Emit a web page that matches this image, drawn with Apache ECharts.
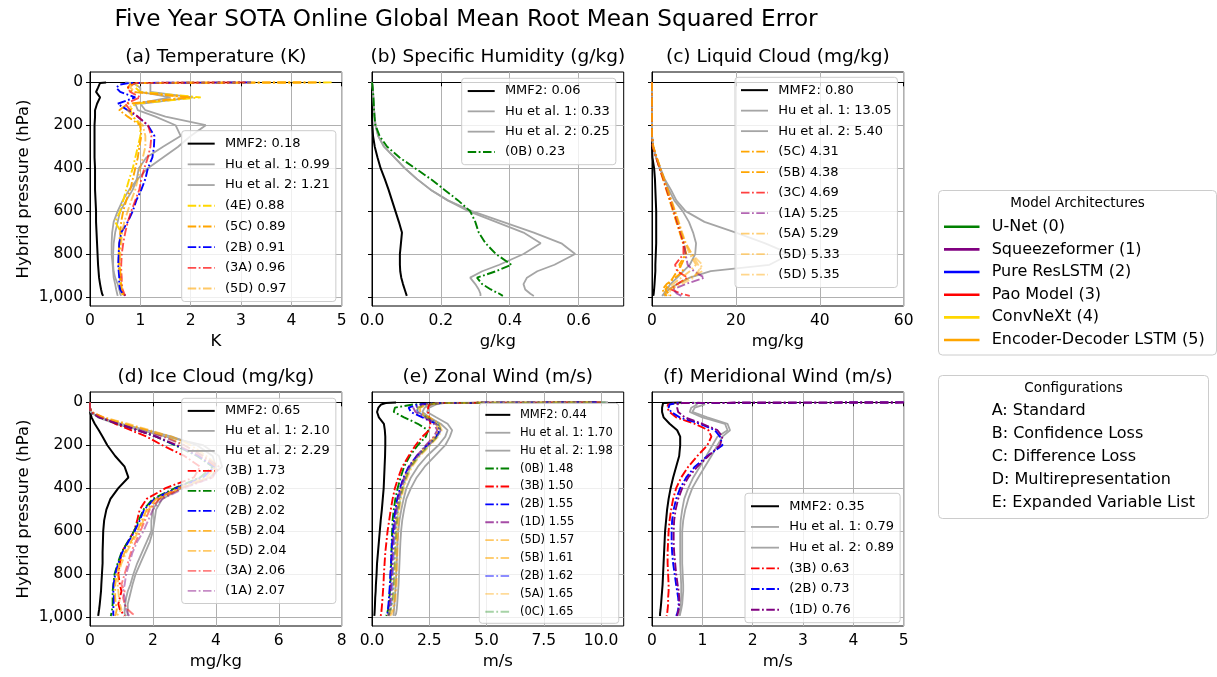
<!DOCTYPE html>
<html>
<head>
<meta charset="utf-8">
<script src="https://cdn.jsdelivr.net/npm/echarts@6/dist/echarts.min.js"></script>
<style>
html, body { margin: 0; padding: 0; background: #fff; }
#chart { width: 1217px; height: 677px; }
</style>
</head>
<body>
<div id="chart"></div>
<script>
// Hybrid pressure levels (hPa) shared by every RMSE profile
const LEVELS = [0.5, 3, 10, 25, 45, 70, 100, 130, 160, 200, 250, 300, 350, 400, 450, 500, 550, 600, 650, 700, 750, 800, 850, 880, 910, 940, 965, 985, 995];

// (a) Temperature RMSE (K)
const T_MMF2 = [0.32, 0.2, 0.17, 0.16, 0.12, 0.2, 0.14, 0.1, 0.1, 0.09, 0.09, 0.09, 0.09, 0.1, 0.1, 0.1, 0.11, 0.12, 0.12, 0.13, 0.14, 0.15, 0.16, 0.17, 0.18, 0.2, 0.22, 0.24, 0.26];
const T_HU1 = [1.2, 1.2, 1.2, 1.2, 1.2, 2.05, 1.0, 1.1, 1.5, 2.3, 2.0, 1.75, 1.45, 1.15, 0.95, 0.78, 0.65, 0.55, 0.47, 0.44, 0.43, 0.43, 0.45, 0.46, 0.47, 0.5, 0.52, 0.54, 0.55];
const T_HU2 = [0.7, 0.8, 0.9, 1.0, 1.0, 1.6, 0.9, 0.95, 1.3, 1.7, 1.8, 1.45, 1.12, 0.97, 0.93, 0.85, 0.72, 0.6, 0.55, 0.5, 0.47, 0.46, 0.46, 0.47, 0.5, 0.55, 0.58, 0.6, 0.62];
const T_4E = [4.8, 1.0, 0.95, 0.9, 1.0, 2.2, 0.9, 0.8, 0.85, 1.0, 1.0, 0.95, 0.9, 0.85, 0.78, 0.72, 0.66, 0.6, 0.5, 0.62, 0.6, 0.58, 0.58, 0.6, 0.6, 0.62, 0.62, 0.64, 0.66];
const T_5C = [4.5, 0.9, 0.8, 0.75, 0.85, 2.0, 0.75, 0.58, 0.75, 1.0, 1.02, 0.98, 0.95, 0.9, 0.85, 0.8, 0.72, 0.66, 0.62, 0.6, 0.58, 0.57, 0.57, 0.58, 0.6, 0.6, 0.62, 0.65, 0.68];
const T_2B = [3.2, 0.8, 0.6, 0.52, 0.6, 0.9, 0.55, 0.75, 0.95, 1.15, 1.28, 1.27, 1.24, 1.15, 1.1, 1.02, 0.92, 0.85, 0.75, 0.62, 0.58, 0.57, 0.56, 0.57, 0.58, 0.58, 0.6, 0.65, 0.72];
const T_3A = [3.1, 0.9, 0.85, 0.75, 0.8, 1.0, 0.7, 0.8, 0.95, 1.15, 1.22, 1.2, 1.15, 1.08, 1.02, 0.98, 0.9, 0.82, 0.75, 0.7, 0.66, 0.63, 0.62, 0.62, 0.63, 0.63, 0.65, 0.68, 0.7];
const T_5D = [4.2, 0.9, 0.85, 0.8, 0.9, 1.9, 0.85, 0.75, 0.85, 1.05, 1.1, 1.1, 1.05, 1.0, 0.95, 0.9, 0.82, 0.75, 0.68, 0.64, 0.62, 0.6, 0.6, 0.6, 0.62, 0.62, 0.64, 0.66, 0.68];

// (b) Specific humidity RMSE (g/kg)
const Q_MMF2 = [0, 0, 0, 0, 0, 0, 0, 0, 0, 0.001, 0.003, 0.008, 0.016, 0.025, 0.037, 0.048, 0.058, 0.068, 0.078, 0.087, 0.084, 0.081, 0.081, 0.082, 0.085, 0.09, 0.095, 0.099, 0.101];
const Q_HU1 = [0, 0, 0.001, 0.002, 0.003, 0.004, 0.005, 0.006, 0.008, 0.01, 0.018, 0.035, 0.065, 0.095, 0.13, 0.17, 0.22, 0.29, 0.38, 0.47, 0.55, 0.59, 0.53, 0.48, 0.45, 0.44, 0.445, 0.46, 0.47];
const Q_HU2 = [0, 0, 0.001, 0.002, 0.003, 0.004, 0.005, 0.006, 0.008, 0.01, 0.018, 0.035, 0.065, 0.095, 0.13, 0.17, 0.22, 0.28, 0.36, 0.44, 0.49, 0.44, 0.37, 0.32, 0.285, 0.3, 0.31, 0.315, 0.315];
const Q_0B = [0, 0, 0.001, 0.002, 0.003, 0.004, 0.005, 0.006, 0.007, 0.01, 0.022, 0.044, 0.08, 0.125, 0.17, 0.21, 0.25, 0.285, 0.3, 0.31, 0.33, 0.36, 0.405, 0.36, 0.305, 0.32, 0.345, 0.37, 0.38];

// (c) Liquid cloud RMSE (mg/kg)
const L_MMF2 = [0, 0, 0, 0, 0, 0, 0, 0, 0, 0, 0, 0, 0.1, 0.5, 0.7, 0.8, 0.9, 1.0, 1.0, 1.0, 1.0, 0.9, 0.8, 0.8, 0.7, 0.6, 0.5, 0.4, 0.3];
const L_HU1 = [0, 0, 0, 0, 0, 0, 0, 0, 0, 0, 0, 0.3, 1.0, 2.0, 3.0, 4.5, 5.8, 8.0, 12.5, 20, 27, 33, 28, 14, 9, 6, 4, 3.2, 2.8];
const L_HU2 = [0, 0, 0, 0, 0, 0, 0, 0, 0, 0, 0, 0.3, 1.0, 1.8, 2.9, 4.0, 5.3, 7.3, 8.8, 9.8, 10.5, 10.3, 9.0, 7.5, 6.0, 4.4, 3.5, 2.8, 2.4];
const L_5C = [0, 0, 0, 0, 0, 0, 0, 0, 0, 0, 0, 0.2, 1.0, 1.8, 2.6, 3.4, 4.2, 5.0, 5.8, 6.6, 7.4, 8.2, 7.0, 6.0, 5.0, 4.0, 3.2, 4.0, 4.5];
const L_5B = [0, 0, 0, 0, 0, 0, 0, 0, 0, 0, 0, 0.3, 1.1, 1.9, 2.7, 3.5, 4.3, 5.1, 5.9, 6.7, 7.5, 8.0, 6.5, 7.5, 5.5, 3.5, 2.5, 3.0, 3.5];
const L_3C = [0, 0, 0, 0, 0, 0, 0, 0, 0, 0, 0, 0.2, 1.0, 1.8, 2.7, 3.5, 4.4, 5.2, 6.0, 6.8, 7.5, 7.5, 5.5, 6.0, 8.5, 6.0, 4.5, 7.0, 9.0];
const L_1A = [0, 0, 0, 0, 0, 0, 0, 0, 0, 0, 0, 0.2, 1.0, 1.9, 2.8, 3.6, 4.5, 5.3, 6.1, 6.9, 7.7, 8.0, 8.5, 10.0, 12.5, 8.0, 5.0, 6.0, 7.0];
const L_5A = [0, 0, 0, 0, 0, 0, 0, 0, 0, 0, 0, 0.3, 1.1, 2.0, 2.8, 3.7, 4.5, 5.4, 6.2, 7.0, 7.9, 9.0, 10.5, 9.0, 7.0, 5.0, 3.5, 3.0, 3.5];
const L_5D1 = [0, 0, 0, 0, 0, 0, 0, 0, 0, 0, 0, 0.3, 1.1, 2.0, 2.9, 3.7, 4.6, 5.5, 6.3, 7.1, 8.0, 9.5, 11.0, 12.0, 9.0, 6.0, 4.0, 3.5, 3.8];
const L_5D2 = [0, 0, 0, 0, 0, 0, 0, 0, 0, 0, 0, 0.3, 1.2, 2.0, 2.9, 3.8, 4.7, 5.5, 6.4, 7.2, 8.1, 9.5, 12.0, 11.0, 10.0, 7.0, 4.5, 4.0, 4.0];

// (d) Ice cloud RMSE (mg/kg)
const I_MMF2 = [0, 0, 0, 0, 0, 0.05, 0.15, 0.28, 0.4, 0.55, 0.8, 1.1, 1.22, 0.9, 0.65, 0.52, 0.45, 0.42, 0.41, 0.4, 0.4, 0.38, 0.36, 0.35, 0.33, 0.31, 0.29, 0.27, 0.26];
const I_HU1 = [0, 0, 0, 0, 0.02, 0.3, 1.0, 1.8, 2.6, 3.4, 3.9, 4.0, 3.5, 2.7, 2.2, 2.0, 1.95, 1.95, 1.8, 1.65, 1.5, 1.38, 1.28, 1.2, 1.15, 1.12, 1.1, 1.1, 1.15];
const I_HU2 = [0, 0, 0, 0, 0.02, 0.25, 0.8, 1.6, 2.4, 3.6, 4.1, 4.2, 3.8, 2.9, 2.3, 2.1, 2.05, 2.0, 1.9, 1.75, 1.6, 1.45, 1.35, 1.3, 1.25, 1.2, 1.2, 1.2, 1.2];
const I_3B = [0, 0, 0, 0, 0.05, 0.4, 0.8, 1.3, 1.8, 2.3, 3.0, 3.5, 3.3, 2.4, 1.8, 1.58, 1.5, 1.4, 1.2, 1.0, 0.95, 0.9, 0.95, 1.0, 0.95, 0.9, 0.95, 1.05, 1.1];
const I_0B = [0, 0, 0, 0, 0.02, 0.3, 0.9, 1.5, 2.1, 2.7, 3.4, 3.9, 3.5, 2.7, 2.0, 1.7, 1.55, 1.4, 1.2, 1.0, 0.88, 0.78, 0.74, 0.72, 0.72, 0.72, 0.7, 0.68, 0.66];
const I_2B = [0, 0, 0, 0, 0.02, 0.3, 0.9, 1.5, 2.1, 2.75, 3.45, 3.95, 3.6, 2.75, 2.05, 1.72, 1.58, 1.42, 1.22, 1.02, 0.9, 0.8, 0.75, 0.74, 0.76, 0.75, 0.74, 0.74, 0.75];
const I_5B = [0, 0, 0, 0, 0.03, 0.4, 1.1, 1.8, 2.4, 3.0, 3.6, 4.0, 3.7, 2.8, 2.1, 1.8, 1.65, 1.5, 1.3, 1.1, 0.95, 0.85, 0.8, 0.8, 0.8, 0.82, 0.85, 0.82, 0.8];
const I_5D = [0, 0, 0, 0, 0.03, 0.45, 1.2, 1.9, 2.6, 3.2, 3.7, 4.1, 3.8, 2.9, 2.2, 1.85, 1.7, 1.55, 1.35, 1.15, 1.0, 0.9, 0.88, 0.9, 0.92, 0.95, 1.0, 0.9, 0.85];
const I_3A = [0, 0, 0, 0, 0.02, 0.3, 0.9, 1.5, 2.1, 2.8, 3.5, 4.0, 3.9, 2.9, 2.2, 1.9, 1.75, 1.6, 1.45, 1.3, 1.2, 1.1, 1.0, 1.1, 1.05, 1.1, 1.2, 1.35, 1.45];
const I_1A = [0, 0, 0, 0, 0.02, 0.3, 0.9, 1.6, 2.3, 3.0, 3.6, 4.1, 3.9, 3.0, 2.3, 2.0, 1.85, 1.7, 1.5, 1.35, 1.25, 1.15, 1.1, 1.05, 1.1, 1.1, 1.15, 1.2, 1.25];

// (e) Zonal wind RMSE (m/s)
const U_MMF2 = [1.05, 0.6, 0.4, 0.28, 0.22, 0.3, 0.52, 0.56, 0.58, 0.58, 0.57, 0.55, 0.53, 0.51, 0.47, 0.43, 0.38, 0.34, 0.3, 0.26, 0.22, 0.2, 0.17, 0.16, 0.14, 0.13, 0.12, 0.11, 0.1];
const U_HU1 = [10.3, 3.0, 2.6, 2.3, 2.2, 2.5, 3.0, 3.3, 3.2, 2.9, 2.4, 2.0, 1.7, 1.5, 1.38, 1.28, 1.2, 1.15, 1.12, 1.1, 1.08, 1.06, 1.04, 1.02, 1.0, 0.98, 0.96, 0.95, 0.94];
const U_HU2 = [10.3, 3.2, 2.8, 2.5, 2.4, 2.8, 3.3, 3.5, 3.4, 3.2, 2.75, 2.3, 1.95, 1.7, 1.5, 1.4, 1.32, 1.27, 1.24, 1.22, 1.2, 1.18, 1.16, 1.14, 1.12, 1.1, 1.08, 1.05, 1.0];
const U_0B = [9.8, 3.0, 1.8, 1.0, 0.95, 1.4, 2.0, 2.45, 2.35, 2.0, 1.65, 1.4, 1.25, 1.12, 1.02, 0.95, 0.9, 0.88, 0.86, 0.85, 0.84, 0.82, 0.8, 0.78, 0.76, 0.74, 0.7, 0.66, 0.62];
const U_3B = [10.0, 3.0, 2.5, 2.45, 2.45, 2.5, 2.55, 2.5, 2.2, 1.9, 1.6, 1.32, 1.15, 1.0, 0.9, 0.82, 0.75, 0.68, 0.63, 0.58, 0.55, 0.52, 0.5, 0.48, 0.46, 0.44, 0.42, 0.4, 0.38];
const U_2B = [9.8, 3.0, 2.0, 1.6, 1.7, 2.2, 2.8, 2.95, 2.8, 2.4, 1.95, 1.6, 1.38, 1.22, 1.1, 1.02, 0.96, 0.92, 0.88, 0.85, 0.83, 0.8, 0.78, 0.76, 0.74, 0.72, 0.7, 0.68, 0.66];
const U_1D = [9.8, 3.0, 2.2, 1.8, 1.9, 2.3, 2.7, 2.85, 2.7, 2.35, 1.95, 1.62, 1.4, 1.25, 1.13, 1.05, 1.0, 0.96, 0.92, 0.9, 0.88, 0.86, 0.84, 0.82, 0.8, 0.78, 0.75, 0.72, 0.7];
const U_5D = [9.6, 3.0, 2.3, 2.0, 2.0, 2.4, 2.8, 2.9, 2.75, 2.4, 2.0, 1.65, 1.45, 1.3, 1.18, 1.1, 1.06, 1.04, 1.02, 1.0, 0.98, 0.96, 0.94, 0.92, 0.9, 0.85, 0.8, 0.75, 0.7];
const U_5B = [9.6, 3.0, 2.4, 2.1, 2.1, 2.5, 2.9, 3.0, 2.85, 2.5, 2.05, 1.7, 1.5, 1.35, 1.22, 1.15, 1.12, 1.1, 1.08, 1.08, 1.06, 1.05, 1.03, 1.02, 1.0, 0.95, 0.9, 0.82, 0.75];
const U_2B2 = [9.8, 3.0, 2.2, 1.9, 2.0, 2.4, 2.85, 3.0, 2.85, 2.45, 2.0, 1.65, 1.45, 1.3, 1.18, 1.1, 1.04, 1.0, 0.97, 0.95, 0.93, 0.91, 0.9, 0.88, 0.86, 0.84, 0.8, 0.76, 0.72];
const U_5A = [9.6, 3.0, 2.4, 2.1, 2.1, 2.5, 2.95, 3.05, 2.9, 2.55, 2.1, 1.75, 1.55, 1.4, 1.28, 1.2, 1.16, 1.14, 1.12, 1.12, 1.1, 1.1, 1.08, 1.06, 1.04, 1.0, 0.95, 0.88, 0.8];
const U_0C = [10.2, 3.0, 2.5, 2.0, 2.0, 2.4, 2.9, 3.0, 2.85, 2.5, 2.05, 1.7, 1.5, 1.35, 1.24, 1.16, 1.1, 1.06, 1.04, 1.02, 1.0, 0.98, 0.96, 0.94, 0.92, 0.88, 0.82, 0.75, 0.68];

// (f) Meridional wind RMSE (m/s)
const V_MMF2 = [0.59, 0.22, 0.2, 0.2, 0.2, 0.23, 0.35, 0.5, 0.56, 0.56, 0.54, 0.48, 0.42, 0.37, 0.33, 0.3, 0.28, 0.26, 0.25, 0.24, 0.23, 0.22, 0.21, 0.2, 0.19, 0.18, 0.17, 0.16, 0.16];
const V_HU1 = [0.8, 0.85, 0.9, 0.78, 0.75, 1.0, 1.45, 1.5, 1.3, 1.2, 1.08, 0.95, 0.82, 0.72, 0.64, 0.6, 0.57, 0.56, 0.56, 0.56, 0.56, 0.57, 0.58, 0.58, 0.58, 0.57, 0.56, 0.55, 0.54];
const V_HU2 = [0.9, 1.0, 1.05, 0.85, 0.8, 1.1, 1.5, 1.55, 1.4, 1.3, 1.18, 1.05, 0.92, 0.8, 0.72, 0.66, 0.62, 0.6, 0.6, 0.6, 0.6, 0.61, 0.62, 0.62, 0.61, 0.6, 0.58, 0.56, 0.55];
const V_3B = [5.0, 0.5, 0.32, 0.3, 0.35, 0.48, 0.85, 1.12, 1.18, 1.1, 0.9, 0.72, 0.58, 0.48, 0.42, 0.38, 0.35, 0.33, 0.32, 0.31, 0.31, 0.32, 0.33, 0.33, 0.32, 0.32, 0.31, 0.3, 0.29];
const V_2B = [5.0, 0.5, 0.35, 0.33, 0.38, 0.55, 0.95, 1.25, 1.35, 1.4, 1.1, 0.85, 0.68, 0.56, 0.48, 0.43, 0.4, 0.39, 0.39, 0.4, 0.42, 0.45, 0.48, 0.5, 0.52, 0.53, 0.52, 0.5, 0.48];
const V_1D = [5.0, 0.6, 0.5, 0.5, 0.52, 0.65, 1.0, 1.3, 1.4, 1.35, 1.12, 0.9, 0.72, 0.6, 0.52, 0.47, 0.44, 0.43, 0.43, 0.44, 0.46, 0.48, 0.51, 0.53, 0.54, 0.54, 0.53, 0.51, 0.5];

// Tick values
const PRESSURE_TICKS = [0, 200, 400, 600, 800, 1000];
const X_TICKS = [
  [0, 1, 2, 3, 4, 5],
  [0, 0.2, 0.4, 0.6],
  [0, 20, 40, 60],
  [0, 2, 4, 6, 8],
  [0, 2.5, 5, 7.5, 10],
  [0, 1, 2, 3, 4, 5]
];

// Side legends
const ARCH_NAMES = ['U-Net (0)', 'Squeezeformer (1)', 'Pure ResLSTM (2)', 'Pao Model (3)', 'ConvNeXt (4)', 'Encoder-Decoder LSTM (5)'];
const CONFIG_LABELS = ['A: Standard', 'B: Confidence Loss', 'C: Difference Loss', 'D: Multirepresentation', 'E: Expanded Variable List'];

// ---------------------------------------------------------------------------
// Styling
const FONT = 'DejaVu Sans';
const ARCH_COLORS = ['#008000', '#800080', '#0000ff', '#ff0000', '#ffd700', '#ffa500'];
const GRAY = '#a5a5a5';
const DASH_DOT = [8.5, 2.5, 1.8, 2.5];

function rgba(hex, a) {
  const n = parseInt(hex.slice(1), 16);
  return 'rgba(' + ((n >> 16) & 255) + ',' + ((n >> 8) & 255) + ',' + (n & 255) + ',' + a + ')';
}
function ref(name, data) { return { name: name, data: data, kind: 'mmf' }; }
function hu(name, data) { return { name: name, data: data, kind: 'hu' }; }
function model(name, data, arch, alpha) { return { name: name, data: data, kind: 'model', arch: arch, alpha: alpha }; }

const PANELS = [
  {
    title: '(a) Temperature (K)', unit: 'K', xMax: 5, dec: 0,
    legend: { left: 181.7, top: 130.7, font: 13, row: 20.7, handle: 27 },
    lines: [
      ref('MMF2: 0.18', T_MMF2), hu('Hu et al. 1: 0.99', T_HU1), hu('Hu et al. 2: 1.21', T_HU2),
      model('(4E) 0.88', T_4E, 4, 1), model('(5C) 0.89', T_5C, 5, 1), model('(2B) 0.91', T_2B, 2, 1),
      model('(3A) 0.96', T_3A, 3, 0.7), model('(5D) 0.97', T_5D, 5, 0.6)
    ]
  },
  {
    title: '(b) Specific Humidity (g/kg)', unit: 'g/kg', xMax: 0.731, dec: 1,
    legend: { left: 461.7, top: 78.3, font: 13, row: 20.3, handle: 27 },
    lines: [
      ref('MMF2: 0.06', Q_MMF2), hu('Hu et al. 1: 0.33', Q_HU1), hu('Hu et al. 2: 0.25', Q_HU2),
      model('(0B) 0.23', Q_0B, 0, 1)
    ]
  },
  {
    title: '(c) Liquid Cloud (mg/kg)', unit: 'mg/kg', xMax: 60, dec: 0,
    legend: { left: 735, top: 77.3, font: 13, row: 20.5, handle: 27 },
    lines: [
      ref('MMF2: 0.80', L_MMF2), hu('Hu et al. 1: 13.05', L_HU1), hu('Hu et al. 2: 5.40', L_HU2),
      model('(5C) 4.31', L_5C, 5, 1), model('(5B) 4.38', L_5B, 5, 1), model('(3C) 4.69', L_3C, 3, 0.75),
      model('(1A) 5.25', L_1A, 1, 0.6), model('(5A) 5.29', L_5A, 5, 0.55), model('(5D) 5.33', L_5D1, 5, 0.5),
      model('(5D) 5.35', L_5D2, 5, 0.45)
    ]
  },
  {
    title: '(d) Ice Cloud (mg/kg)', unit: 'mg/kg', xMax: 8, dec: 0,
    legend: { left: 181.7, top: 398.3, font: 13, row: 20, handle: 27 },
    lines: [
      ref('MMF2: 0.65', I_MMF2), hu('Hu et al. 1: 2.10', I_HU1), hu('Hu et al. 2: 2.29', I_HU2),
      model('(3B) 1.73', I_3B, 3, 1), model('(0B) 2.02', I_0B, 0, 1), model('(2B) 2.02', I_2B, 2, 1),
      model('(5B) 2.04', I_5B, 5, 0.8), model('(5D) 2.04', I_5D, 5, 0.6), model('(3A) 2.06', I_3A, 3, 0.5),
      model('(1A) 2.07', I_1A, 1, 0.45)
    ]
  },
  {
    title: '(e) Zonal Wind (m/s)', unit: 'm/s', xMax: 10.99, dec: 1,
    legend: { left: 479.3, top: 403.3, font: 11.5, row: 17.9, handle: 25 },
    lines: [
      ref('MMF2: 0.44', U_MMF2), hu('Hu et al. 1: 1.70', U_HU1), hu('Hu et al. 2: 1.98', U_HU2),
      model('(0B) 1.48', U_0B, 0, 1), model('(3B) 1.50', U_3B, 3, 1), model('(2B) 1.55', U_2B, 2, 1),
      model('(1D) 1.55', U_1D, 1, 0.7), model('(5D) 1.57', U_5D, 5, 0.6), model('(5B) 1.61', U_5B, 5, 0.55),
      model('(2B) 1.62', U_2B2, 2, 0.45), model('(5A) 1.65', U_5A, 5, 0.4), model('(0C) 1.65', U_0C, 0, 0.35)
    ]
  },
  {
    title: '(f) Meridional Wind (m/s)', unit: 'm/s', xMax: 5, dec: 0,
    legend: { left: 745, top: 493.3, font: 13, row: 20.7, handle: 28 },
    lines: [
      ref('MMF2: 0.35', V_MMF2), hu('Hu et al. 1: 0.79', V_HU1), hu('Hu et al. 2: 0.89', V_HU2),
      model('(3B) 0.63', V_3B, 3, 1), model('(2B) 0.73', V_2B, 2, 1), model('(1D) 0.76', V_1D, 1, 1)
    ]
  }
];

const GRID_LEFT = [90, 372, 652];
const GRID_TOP = [72, 392];
const GRID_W = 251.7;
const GRID_H = 234;

const grids = [], xAxes = [], yAxes = [], titles = [], legends = [], series = [];

titles.push({
  text: 'Five Year SOTA Online Global Mean Root Mean Squared Error',
  left: 466, top: 20, textAlign: 'center', textVerticalAlign: 'middle', padding: 0,
  textStyle: { fontFamily: FONT, fontSize: 23.2, fontWeight: 'normal', color: '#000' }
});

PANELS.forEach(function (p, i) {
  const col = i % 3, row = Math.floor(i / 3);
  const left = GRID_LEFT[col], top = GRID_TOP[row];
  grids.push({ left: left, top: top, width: GRID_W, height: GRID_H, show: true, borderColor: '#000', borderWidth: 1, backgroundColor: 'transparent', containLabel: false });

  titles.push({
    text: p.title, left: left + GRID_W / 2, top: top - 15, textAlign: 'center', textVerticalAlign: 'middle', padding: 0,
    textStyle: { fontFamily: FONT, fontSize: 18.5, fontWeight: 'normal', color: '#000' }
  });

  xAxes.push({
    type: 'value', gridIndex: i, min: 0, max: p.xMax,
    name: p.unit, nameLocation: 'middle', nameGap: 27,
    nameTextStyle: { fontFamily: FONT, fontSize: 16.5, color: '#000' },
    axisLine: { show: true, lineStyle: { color: '#000', width: 1 } },
    axisTick: { show: true, length: 4, customValues: X_TICKS[i], lineStyle: { color: '#000' } },
    axisLabel: {
      show: true, margin: 7, customValues: X_TICKS[i], fontFamily: FONT, fontSize: 15.5, color: '#000',
      formatter: function (v) { return Number(v).toFixed(p.dec); }
    },
    splitLine: { show: true, lineStyle: { color: '#b0b0b0', width: 1 } }
  });

  yAxes.push({
    type: 'value', gridIndex: i, min: -48, max: 1042, inverse: true,
    name: col === 0 ? 'Hybrid pressure (hPa)' : '', nameLocation: 'middle', nameGap: 58,
    nameTextStyle: { fontFamily: FONT, fontSize: 16.5, color: '#000' },
    axisLine: { show: true, lineStyle: { color: '#000', width: 1 } },
    axisTick: { show: true, length: 4, customValues: PRESSURE_TICKS, lineStyle: { color: '#000' } },
    axisLabel: { show: col === 0, margin: 7, customValues: PRESSURE_TICKS, fontFamily: FONT, fontSize: 15.5, color: '#000' },
    splitLine: { show: true, lineStyle: { color: '#b0b0b0', width: 1 } }
  });

  const L = p.legend;
  const itemH = Math.round(L.font * 1.05);
  legends.push({
    show: true, orient: 'vertical', left: L.left, top: L.top,
    data: p.lines.map(function (s) { return s.name; }),
    selectedMode: false,
    itemWidth: L.handle, itemHeight: itemH, itemGap: L.row - itemH,
    padding: [(L.row - itemH) / 2 + 2.6, 6, (L.row - itemH) / 2 + 2.6, 5],
    backgroundColor: 'rgba(255,255,255,0.8)', borderColor: '#cccccc', borderWidth: 1, borderRadius: 3,
    itemStyle: { opacity: 0 },
    lineStyle: { width: 'inherit' },
    textStyle: { fontFamily: FONT, fontSize: L.font, color: '#000', lineHeight: itemH, padding: [0, 0, 0, L.font * 0.4] }
  });

  p.lines.forEach(function (s) {
    let color, width, type;
    if (s.kind === 'mmf') { color = '#000'; width = 2; type = 'solid'; }
    else if (s.kind === 'hu') { color = GRAY; width = 1.8; type = 'solid'; }
    else { color = rgba(ARCH_COLORS[s.arch], s.alpha); width = 1.9; type = DASH_DOT; }
    series.push({
      type: 'line', name: s.name, xAxisIndex: i, yAxisIndex: i,
      data: s.data.map(function (v, k) { return [v, LEVELS[k]]; }),
      symbol: 'none', showSymbol: false, smooth: false, clip: true,
      lineStyle: { color: color, width: width, type: type },
      itemStyle: { color: color },
      emphasis: { disabled: true }, silent: true
    });
  });
});

// Side legend boxes: model architectures and configurations
const graphics = [];
const ARCH_BOX = { x: 938.5, y: 190.5, w: 278, h: 164.5 };
graphics.push({ type: 'rect', shape: { x: ARCH_BOX.x, y: ARCH_BOX.y, width: ARCH_BOX.w, height: ARCH_BOX.h, r: 4 }, style: { fill: '#fff', stroke: '#cccccc', lineWidth: 1 } });
graphics.push({ type: 'text', style: { text: 'Model Architectures', x: ARCH_BOX.x + ARCH_BOX.w / 2, y: 203.5, align: 'center', verticalAlign: 'middle', font: '13.5px "' + FONT + '"', fill: '#000' } });
ARCH_NAMES.forEach(function (name, k) {
  const y = 226.7 + 22.66 * k;
  graphics.push({ type: 'line', shape: { x1: 944, y1: y, x2: 979.5, y2: y }, style: { stroke: ARCH_COLORS[k], lineWidth: 2.6 } });
  graphics.push({ type: 'text', style: { text: name, x: 991.7, y: y, align: 'left', verticalAlign: 'middle', font: '16px "' + FONT + '"', fill: '#000' } });
});
const CONF_BOX = { x: 938.5, y: 375.5, w: 270, h: 143 };
graphics.push({ type: 'rect', shape: { x: CONF_BOX.x, y: CONF_BOX.y, width: CONF_BOX.w, height: CONF_BOX.h, r: 4 }, style: { fill: '#fff', stroke: '#cccccc', lineWidth: 1 } });
graphics.push({ type: 'text', style: { text: 'Configurations', x: CONF_BOX.x + CONF_BOX.w / 2, y: 388.5, align: 'center', verticalAlign: 'middle', font: '13.5px "' + FONT + '"', fill: '#000' } });
CONFIG_LABELS.forEach(function (label, k) {
  graphics.push({ type: 'text', style: { text: label, x: 991.7, y: 410.5 + 23.1 * k, align: 'left', verticalAlign: 'middle', font: '16px "' + FONT + '"', fill: '#000' } });
});

const chart = echarts.init(document.getElementById('chart'), null, { renderer: 'canvas' });
chart.setOption({
  animation: false,
  backgroundColor: '#fff',
  title: titles,
  grid: grids,
  xAxis: xAxes,
  yAxis: yAxes,
  legend: legends,
  series: series,
  graphic: { elements: graphics }
});
</script>
</body>
</html>
